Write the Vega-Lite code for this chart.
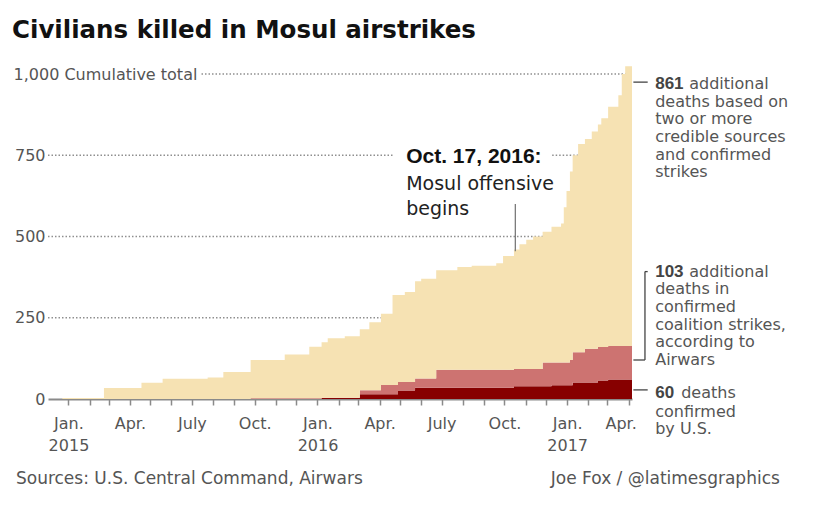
{
  "$schema": "https://vega.github.io/schema/vega-lite/v6.json",
  "width": 584,
  "height": 325,
  "autosize": {"type": "none"},
  "padding": {"left": 48, "top": 74, "right": 191, "bottom": 113},
  "background": "#ffffff",
  "config": {"view": {"stroke": null}, "font": "DejaVu Sans"},
  "title": {
    "text": "Civilians killed in Mosul airstrikes",
    "anchor": "start",
    "frame": "group",
    "dx": -36,
    "offset": 4,
    "baseline": "alphabetic",
    "font": "DejaVu Sans",
    "fontSize": 24.5,
    "fontWeight": "bold",
    "color": "#111111"
  },
  "encoding": {
    "x": {
      "field": "date",
      "type": "temporal",
      "scale": {
        "type": "utc",
        "domain": [
          {"year": 2014, "month": 12, "date": 2, "utc": true},
          {"year": 2017, "month": 4, "date": 6, "utc": true}
        ]
      },
      "axis": {
        "title": null,
        "grid": false,
        "tickCount": {"interval": "month", "step": 1},
        "labelExpr": "utcmonth(datum.value) == 0 ? ['Jan.', utcFormat(datum.value, '%Y')] : utcmonth(datum.value) == 3 ? 'Apr.' : utcmonth(datum.value) == 6 ? 'July' : utcmonth(datum.value) == 9 ? 'Oct.' : ''",
        "domainColor": "#8a8a8a",
        "domainWidth": 2,
        "tickColor": "#8a8a8a",
        "tickWidth": 1.5,
        "tickSize": 6,
        "labelFont": "DejaVu Sans",
        "labelFontSize": 16,
        "labelColor": "#555555",
        "labelPadding": 10,
        "labelLineHeight": 22,
        "labelFlush": false,
        "labelOverlap": false,
        "labelBound": false,
        "labelOffset": {
          "condition": {"test": "utcyear(datum.value) == 2017 && utcmonth(datum.value) == 3", "value": -8},
          "value": 0
        }
      }
    },
    "y": {
      "field": "value",
      "type": "quantitative",
      "scale": {"domain": [0, 1000], "nice": false, "zero": true},
      "axis": {
        "title": null,
        "grid": false,
        "domain": false,
        "ticks": false,
        "tickSize": 0,
        "values": [0, 250, 500, 750, 1000],
        "labelExpr": "datum.value == 1000 ? '1,000 Cumulative total' : format(datum.value, ',')",
        "labelFont": "DejaVu Sans",
        "labelFontSize": 16,
        "labelColor": "#555555",
        "labelBaseline": "middle",
        "labelLimit": 400,
        "labelOverlap": false,
        "labelBound": false,
        "labelAlign": {"condition": {"test": "datum.value == 1000", "value": "left"}, "value": "right"},
        "labelPadding": {"condition": {"test": "datum.value == 1000", "value": 35}, "value": 3}
      }
    }
  },
  "layer": [
    {
      "data": {
        "values": [
          {"date": "2014-12-02", "to": "2017-04-06", "value": 250},
          {"date": "2014-12-02", "to": "2017-04-06", "value": 500},
          {"date": "2014-12-02", "to": "2016-04-21", "value": 750},
          {"date": "2016-12-10", "to": "2017-04-06", "value": 750},
          {"date": "2015-07-15", "to": "2017-04-06", "value": 1000}
        ],
        "format": {"parse": {"date": "date", "to": "date"}}
      },
      "mark": {"type": "rule", "color": "#8f8f8f", "strokeWidth": 1.3, "strokeDash": [1.5, 2]},
      "encoding": {"x2": {"field": "to"}}
    },
    {
      "data": {
        "values": [
          {"date": "2014-12-02", "us": 0, "coalition": 0, "additional": 0},
          {"date": "2014-12-23", "us": 0, "coalition": 0, "additional": 3},
          {"date": "2015-02-22", "us": 0, "coalition": 0, "additional": 34},
          {"date": "2015-04-18", "us": 0, "coalition": 0, "additional": 50},
          {"date": "2015-05-19", "us": 0, "coalition": 0, "additional": 62},
          {"date": "2015-07-24", "us": 0, "coalition": 0, "additional": 66},
          {"date": "2015-08-16", "us": 0, "coalition": 0, "additional": 83},
          {"date": "2015-09-25", "us": 0, "coalition": 2, "additional": 118},
          {"date": "2015-11-14", "us": 0, "coalition": 2, "additional": 135},
          {"date": "2015-12-20", "us": 0, "coalition": 2, "additional": 159},
          {"date": "2016-01-07", "us": 3, "coalition": 1, "additional": 171},
          {"date": "2016-01-16", "us": 3, "coalition": 1, "additional": 183},
          {"date": "2016-02-10", "us": 3, "coalition": 1, "additional": 189},
          {"date": "2016-03-03", "us": 15, "coalition": 12, "additional": 188},
          {"date": "2016-03-17", "us": 15, "coalition": 12, "additional": 209},
          {"date": "2016-04-03", "us": 15, "coalition": 28, "additional": 219},
          {"date": "2016-04-20", "us": 15, "coalition": 28, "additional": 277},
          {"date": "2016-04-28", "us": 26, "coalition": 26, "additional": 268},
          {"date": "2016-05-08", "us": 26, "coalition": 26, "additional": 277},
          {"date": "2016-05-23", "us": 35, "coalition": 28, "additional": 299},
          {"date": "2016-06-01", "us": 35, "coalition": 28, "additional": 307},
          {"date": "2016-06-23", "us": 35, "coalition": 55, "additional": 306},
          {"date": "2016-07-24", "us": 35, "coalition": 55, "additional": 316},
          {"date": "2016-08-14", "us": 35, "coalition": 55, "additional": 320},
          {"date": "2016-09-19", "us": 35, "coalition": 55, "additional": 328},
          {"date": "2016-09-29", "us": 35, "coalition": 55, "additional": 350},
          {"date": "2016-10-15", "us": 39, "coalition": 53, "additional": 368},
          {"date": "2016-10-23", "us": 39, "coalition": 53, "additional": 384},
          {"date": "2016-11-02", "us": 39, "coalition": 53, "additional": 398},
          {"date": "2016-11-12", "us": 39, "coalition": 53, "additional": 408},
          {"date": "2016-11-26", "us": 39, "coalition": 73, "additional": 403},
          {"date": "2016-12-09", "us": 42, "coalition": 70, "additional": 418},
          {"date": "2016-12-23", "us": 42, "coalition": 70, "additional": 428},
          {"date": "2016-12-27", "us": 42, "coalition": 70, "additional": 478},
          {"date": "2016-12-31", "us": 42, "coalition": 70, "additional": 528},
          {"date": "2017-01-05", "us": 42, "coalition": 78, "additional": 580},
          {"date": "2017-01-09", "us": 51, "coalition": 93, "additional": 606},
          {"date": "2017-01-17", "us": 51, "coalition": 93, "additional": 641},
          {"date": "2017-01-27", "us": 51, "coalition": 104, "additional": 645},
          {"date": "2017-02-06", "us": 51, "coalition": 104, "additional": 668},
          {"date": "2017-02-15", "us": 57, "coalition": 103, "additional": 685},
          {"date": "2017-02-20", "us": 57, "coalition": 103, "additional": 704},
          {"date": "2017-03-02", "us": 60, "coalition": 103, "additional": 736},
          {"date": "2017-03-17", "us": 60, "coalition": 103, "additional": 772},
          {"date": "2017-03-22", "us": 60, "coalition": 103, "additional": 837},
          {"date": "2017-03-27", "us": 60, "coalition": 103, "additional": 861},
          {"date": "2017-04-06", "us": 60, "coalition": 103, "additional": 861}
        ]
      },
      "transform": [{"fold": ["us", "coalition", "additional"], "as": ["type", "value"]}],
      "mark": {"type": "area", "interpolate": "step-after"},
      "encoding": {
        "color": {
          "field": "type",
          "type": "nominal",
          "scale": {"domain": ["us", "coalition", "additional"], "range": ["#870000", "#cd7371", "#f6e2b3"]},
          "legend": null
        }
      }
    },
    {
      "data": {
        "values": [{"date": "2016-10-17", "date2": "2016-10-17", "value": 455, "value2": 600}],
        "format": {"parse": {"date": "date", "date2": "date"}}
      },
      "mark": {"type": "rule", "color": "#7a7a7a", "strokeWidth": 1.3},
      "encoding": {"x2": {"field": "date2"}, "y2": {"field": "value2"}}
    },
    {
      "data": {
        "values": [
          {"date": "2017-04-08", "date2": "2017-04-29", "value": 975, "value2": 975},
          {"date": "2017-04-25", "date2": "2017-04-25", "value": 120, "value2": 392},
          {"date": "2017-04-25", "date2": "2017-04-29", "value": 392, "value2": 392},
          {"date": "2017-04-08", "date2": "2017-04-25", "value": 120, "value2": 120},
          {"date": "2017-04-08", "date2": "2017-04-29", "value": 28, "value2": 28}
        ],
        "format": {"parse": {"date": "date", "date2": "date"}}
      },
      "mark": {"type": "rule", "color": "#444444", "strokeWidth": 1.3},
      "encoding": {"x2": {"field": "date2"}, "y2": {"field": "value2"}}
    },
    {
      "data": {"values": [{"date": "2016-05-10", "value": 725, "label": "Oct. 17, 2016:"}]},
      "mark": {"type": "text", "align": "left", "baseline": "alphabetic", "font": "Liberation Sans", "fontWeight": "bold", "fontSize": 21, "color": "#111111"},
      "encoding": {"text": {"field": "label"}}
    },
    {
      "data": {"values": [{"date": "2016-05-10", "value": 643, "label": "Mosul offensive\nbegins"}]},
      "mark": {"type": "text", "align": "left", "baseline": "alphabetic", "lineBreak": "\n", "lineHeight": 25, "font": "DejaVu Sans", "fontSize": 19, "color": "#222222"},
      "encoding": {"text": {"field": "label"}}
    },
    {
      "data": {
        "values": [
          {"date": "2017-05-10", "value": 954, "label": "861"},
          {"date": "2017-05-10", "value": 376, "label": "103"},
          {"date": "2017-05-10", "value": 2, "label": "60"}
        ]
      },
      "mark": {"type": "text", "align": "left", "baseline": "alphabetic", "font": "Liberation Sans", "fontWeight": "bold", "fontSize": 17, "color": "#444444"},
      "encoding": {"text": {"field": "label"}}
    },
    {
      "data": {
        "values": [
          {"date": "2017-05-10", "value": 954, "label": "additional"},
          {"date": "2017-05-10", "value": 376, "label": "additional"}
        ]
      },
      "mark": {"type": "text", "align": "left", "baseline": "alphabetic", "dx": 34, "font": "DejaVu Sans", "fontSize": 16, "color": "#555555"},
      "encoding": {"text": {"field": "label"}}
    },
    {
      "data": {"values": [{"date": "2017-05-10", "value": 2, "label": "deaths"}]},
      "mark": {"type": "text", "align": "left", "baseline": "alphabetic", "dx": 26, "font": "DejaVu Sans", "fontSize": 16, "color": "#555555"},
      "encoding": {"text": {"field": "label"}}
    },
    {
      "data": {
        "values": [
          {"date": "2017-05-10", "value": 899.4, "label": "deaths based on\ntwo or more\ncredible sources\nand confirmed\nstrikes"},
          {"date": "2017-05-10", "value": 322, "label": "deaths in\nconfirmed\ncoalition strikes,\naccording to\nAirwars"},
          {"date": "2017-05-10", "value": -54.5, "label": "confirmed\nby U.S."}
        ]
      },
      "mark": {"type": "text", "align": "left", "baseline": "alphabetic", "lineBreak": "\n", "lineHeight": 17.7, "font": "DejaVu Sans", "fontSize": 16, "color": "#555555"},
      "encoding": {"text": {"field": "label"}}
    },
    {
      "data": {
        "values": [
          {"date": "2014-10-16", "value": -261.5, "label": "Sources: U.S. Central Command, Airwars"},
          {"date": "2016-12-08", "value": -261.5, "label": "Joe Fox / @latimesgraphics"}
        ]
      },
      "mark": {"type": "text", "align": "left", "baseline": "alphabetic", "font": "DejaVu Sans", "fontSize": 17, "color": "#555555"},
      "encoding": {"text": {"field": "label"}}
    }
  ]
}
